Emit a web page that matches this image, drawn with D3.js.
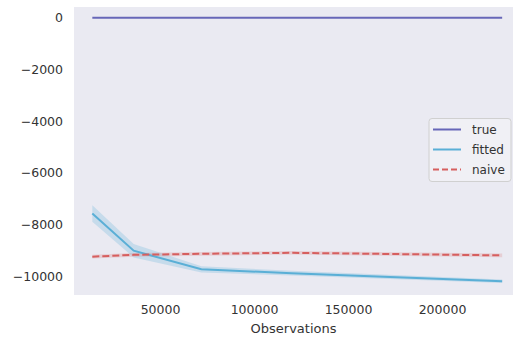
<!DOCTYPE html>
<html>
<head>
<meta charset="utf-8">
<script src="https://cdn.jsdelivr.net/npm/d3@7"></script>
<style>
  body { margin: 0; background: #fff; }
  svg { display: block; font-family: "DejaVu Sans", sans-serif; }
</style>
</head>
<body>
<svg id="chart" width="514" height="338"></svg>
<script>
const observations = [14000, 36000, 72000, 120000, 232000];
const trueValues   = [0, 0, 0, 0, 0];
const fittedValues = [-7580, -9020, -9740, -9890, -10200];
const fittedLower  = [-7900, -9280, -9860, -9980, -10270];
const fittedUpper  = [-7260, -8760, -9620, -9800, -10130];
const naiveValues  = [-9250, -9180, -9140, -9100, -9200];
const naiveLower   = [-9320, -9250, -9210, -9170, -9270];
const naiveUpper   = [-9180, -9110, -9070, -9030, -9130];
const xTicks = [50000, 100000, 150000, 200000];
const yTicks = [0, -2000, -4000, -6000, -8000, -10000];
const seriesNames = ["true", "fitted", "naive"];
const seriesColors = ["#6767b8", "#5aafd6", "#d65f5f"];

const svg = d3.select("#chart");
const L = 74, R = 513, T = 7, B = 295;

const x = d3.scaleLinear().domain([4255, 237766]).range([L, R]);
const y = d3.scaleLinear().domain([414, -10734]).range([T, B]);

svg.append("rect").attr("x", L).attr("y", T).attr("width", R - L).attr("height", B - T)
  .attr("fill", "#eaeaf2");

// axes
const xAxis = d3.axisBottom(x).tickValues(xTicks).tickSize(0).tickPadding(10).tickFormat(d3.format("d"));
const gx = svg.append("g").attr("transform", `translate(0,${B})`).call(xAxis);
gx.select(".domain").remove();
gx.selectAll("text").attr("fill", "#333333").style("font-size", "12.5px")
  .style("font-family", "DejaVu Sans, sans-serif");

const yAxis = d3.axisLeft(y).tickValues(yTicks).tickSize(0).tickPadding(11)
  .tickFormat(d => d < 0 ? "\u2212" + Math.abs(d) : String(d));
const gy = svg.append("g").attr("transform", `translate(${L},0)`).call(yAxis);
gy.select(".domain").remove();
gy.selectAll("text").attr("fill", "#333333").style("font-size", "12.5px")
  .style("font-family", "DejaVu Sans, sans-serif");

svg.append("text").attr("x", (L + R) / 2).attr("y", 333).attr("text-anchor", "middle")
  .attr("fill", "#333333").style("font-size", "13px").text("Observations");

const plot = svg.append("g");

const area = d3.area().x(d => x(d.x)).y0(d => y(d.lo)).y1(d => y(d.hi));
const line = d3.line().x(d => x(d.x)).y(d => y(d.v));

const fBand = observations.map((o, i) => ({x: o, lo: fittedLower[i], hi: fittedUpper[i]}));
const nBand = observations.map((o, i) => ({x: o, lo: naiveLower[i], hi: naiveUpper[i]}));

plot.append("path").datum(fBand).attr("d", area).attr("fill", seriesColors[1]).attr("fill-opacity", 0.25);
plot.append("path").datum(nBand).attr("d", area).attr("fill", seriesColors[2]).attr("fill-opacity", 0.2);

const series = [trueValues, fittedValues, naiveValues];
series.forEach((vals, i) => {
  plot.append("path")
    .datum(observations.map((o, j) => ({x: o, v: vals[j]})))
    .attr("d", line)
    .attr("fill", "none")
    .attr("stroke", seriesColors[i])
    .attr("stroke-width", 2)
    .attr("stroke-dasharray", i === 2 ? "7,3" : null);
});

// legend
const lg = svg.append("g");
lg.append("rect").attr("x", 429).attr("y", 118.5).attr("width", 82).attr("height", 63)
  .attr("rx", 3).attr("fill", "#f0f0f5").attr("stroke", "#d0d0d0").attr("stroke-width", 1);
seriesNames.forEach((name, i) => {
  const yy = 129.5 + i * 20;
  lg.append("line").attr("x1", 433).attr("x2", 461).attr("y1", yy).attr("y2", yy)
    .attr("stroke", seriesColors[i]).attr("stroke-width", 2)
    .attr("stroke-dasharray", i === 2 ? "6,3" : null);
  lg.append("text").attr("x", 472).attr("y", yy + 4.5).attr("fill", "#333333")
    .style("font-size", "12px").text(name);
});
</script>
</body>
</html>
